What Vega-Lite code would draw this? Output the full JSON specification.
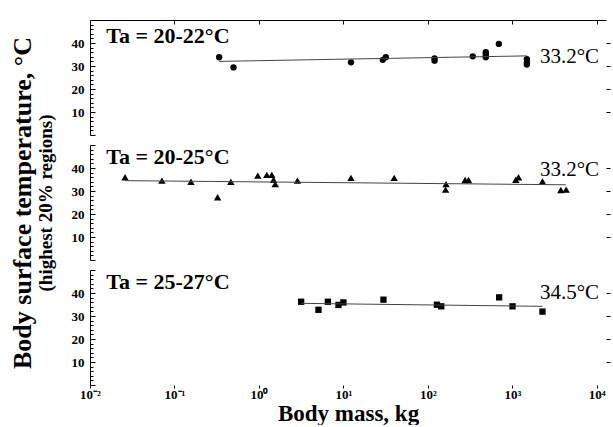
{
  "$schema": "https://vega.github.io/schema/vega-lite/v6.json",
  "padding": {"top": 14, "left": 8, "right": 0, "bottom": 0},
  "background": "white",
  "config": {
    "view": {"stroke": null},
    "axis": {"grid": false, "domainColor": "black", "tickColor": "black", "labelColor": "black", "titleColor": "black", "labelFont": "Liberation Serif", "titleFont": "Liberation Serif", "labelFlush": false, "labelOverlap": false}
  },
  "datasets": {
    "points": [
      {"panel": "A", "mass": 0.338, "temp": 33.8},
      {"panel": "A", "mass": 0.5, "temp": 29.4},
      {"panel": "A", "mass": 12.3, "temp": 31.6},
      {"panel": "A", "mass": 29.3, "temp": 32.7},
      {"panel": "A", "mass": 31.8, "temp": 33.8},
      {"panel": "A", "mass": 120, "temp": 33.3},
      {"panel": "A", "mass": 120, "temp": 32.3},
      {"panel": "A", "mass": 340, "temp": 34.2},
      {"panel": "A", "mass": 485, "temp": 36.0},
      {"panel": "A", "mass": 485, "temp": 34.9},
      {"panel": "A", "mass": 485, "temp": 33.8},
      {"panel": "A", "mass": 692, "temp": 39.6},
      {"panel": "A", "mass": 1486, "temp": 33.0},
      {"panel": "A", "mass": 1486, "temp": 31.6},
      {"panel": "A", "mass": 1486, "temp": 30.6},
      {"panel": "B", "mass": 0.026, "temp": 36.0},
      {"panel": "B", "mass": 0.071, "temp": 34.5},
      {"panel": "B", "mass": 0.157, "temp": 34.0},
      {"panel": "B", "mass": 0.324, "temp": 27.3},
      {"panel": "B", "mass": 0.465, "temp": 34.0},
      {"panel": "B", "mass": 0.97, "temp": 36.7},
      {"panel": "B", "mass": 1.24, "temp": 37.0},
      {"panel": "B", "mass": 1.42, "temp": 37.0},
      {"panel": "B", "mass": 1.49, "temp": 34.9},
      {"panel": "B", "mass": 1.56, "temp": 33.0},
      {"panel": "B", "mass": 2.86, "temp": 34.5},
      {"panel": "B", "mass": 12.3, "temp": 35.7},
      {"panel": "B", "mass": 39.9, "temp": 35.7},
      {"panel": "B", "mass": 164, "temp": 33.0},
      {"panel": "B", "mass": 162, "temp": 30.6},
      {"panel": "B", "mass": 276, "temp": 34.8},
      {"panel": "B", "mass": 303, "temp": 34.8},
      {"panel": "B", "mass": 1100, "temp": 34.9},
      {"panel": "B", "mass": 1183, "temp": 36.0},
      {"panel": "B", "mass": 2275, "temp": 34.2},
      {"panel": "B", "mass": 3750, "temp": 30.4},
      {"panel": "B", "mass": 4335, "temp": 30.6},
      {"panel": "C", "mass": 3.16, "temp": 36.2},
      {"panel": "C", "mass": 5.07, "temp": 32.7},
      {"panel": "C", "mass": 6.54, "temp": 36.2},
      {"panel": "C", "mass": 8.75, "temp": 34.8},
      {"panel": "C", "mass": 10.0, "temp": 35.9},
      {"panel": "C", "mass": 29.8, "temp": 37.1},
      {"panel": "C", "mass": 128, "temp": 34.9},
      {"panel": "C", "mass": 144, "temp": 34.2},
      {"panel": "C", "mass": 698, "temp": 38.1},
      {"panel": "C", "mass": 1005, "temp": 34.2},
      {"panel": "C", "mass": 2275, "temp": 31.9}
    ],
    "fits": [
      {"panel": "A", "mass": 0.338, "temp": 32.0},
      {"panel": "A", "mass": 1486, "temp": 34.4},
      {"panel": "B", "mass": 0.026, "temp": 34.5},
      {"panel": "B", "mass": 4300, "temp": 32.7},
      {"panel": "C", "mass": 3.16, "temp": 35.5},
      {"panel": "C", "mass": 2275, "temp": 34.2}
    ],
    "labels": [
      {"panel": "A", "kind": "ta", "mass": 0.0156, "temp": 43.0, "text": "Ta = 20-22°C"},
      {"panel": "B", "kind": "ta", "mass": 0.0156, "temp": 44.8, "text": "Ta = 20-25°C"},
      {"panel": "C", "kind": "ta", "mass": 0.0156, "temp": 45.0, "text": "Ta = 25-27°C"},
      {"panel": "A", "kind": "val", "mass": 2120, "temp": 33.8, "text": "33.2°C"},
      {"panel": "B", "kind": "val", "mass": 2120, "temp": 39.2, "text": "33.2°C"},
      {"panel": "C", "kind": "val", "mass": 2120, "temp": 40.0, "text": "34.5°C"}
    ]
  },
  "vconcat": [
    {
      "width": 516, "height": 115,
      "resolve": {"scale": {"y": "shared"}, "axis": {"y": "independent"}},
      "layer": [
        {
          "data": {"name": "points"},
          "transform": [{"filter": "datum.panel === 'A'"}],
          "mark": {"type": "point", "shape": "circle", "filled": true, "color": "black", "size": 40, "opacity": 1},
          "encoding": {
            "x": {"field": "mass", "type": "quantitative", "scale": {"type": "log", "domain": [0.01, 12850], "nice": false},
                  "axis": {"orient": "top", "values": [0.01, 0.1, 1, 10, 100, 1000, 10000], "labels": false, "tickSize": -4, "domain": true, "title": null}},
            "y": {"field": "temp", "type": "quantitative", "scale": {"domain": [0, 50], "nice": false, "zero": false},
                  "axis": {"orient": "left", "values": [0,2,4,6,8,10,12,14,16,18,20,22,24,26,28,30,32,34,36,38,40,42,44,46,48,50],
                           "labelExpr": "datum.value % 10 === 0 && datum.value > 0 && datum.value < 50 ? datum.value : ''",
                           "tickSize": {"condition": {"test": "datum.value % 10 === 0", "value": -5}, "value": -3},
                           "labelPadding": 11, "labelFontSize": 13, "labelFontWeight": "bold", "title": null}}
          }
        },
        {
          "data": {"name": "fits"},
          "transform": [{"filter": "datum.panel === 'A'"}],
          "mark": {"type": "line", "color": "#444444", "strokeWidth": 1},
          "encoding": {
            "x": {"field": "mass", "type": "quantitative"},
            "y": {"field": "temp", "type": "quantitative",
                  "axis": {"orient": "right", "values": [10, 20, 30, 40], "labels": false, "domain": false, "tickSize": 4, "title": null}}
          }
        },
        {
          "data": {"name": "labels"},
          "transform": [{"filter": "datum.panel === 'A' && datum.kind === 'ta'"}],
          "mark": {"type": "text", "align": "left", "baseline": "middle", "font": "Liberation Serif", "fontSize": 22, "fontWeight": "bold", "color": "black"},
          "encoding": {
            "x": {"field": "mass", "type": "quantitative"},
            "y": {"field": "temp", "type": "quantitative", "axis": null},
            "text": {"field": "text"}
          }
        },
        {
          "data": {"name": "labels"},
          "transform": [{"filter": "datum.panel === 'A' && datum.kind === 'val'"}],
          "mark": {"type": "text", "align": "left", "baseline": "middle", "font": "Liberation Serif", "fontSize": 21, "fontWeight": "normal", "color": "black"},
          "encoding": {
            "x": {"field": "mass", "type": "quantitative"},
            "y": {"field": "temp", "type": "quantitative", "axis": null},
            "text": {"field": "text"}
          }
        }
      ]
    },
    {
      "width": 516, "height": 115,
      "resolve": {"scale": {"y": "shared"}, "axis": {"y": "independent"}},
      "layer": [
        {
          "data": {"name": "points"},
          "transform": [{"filter": "datum.panel === 'B'"}],
          "mark": {"type": "point", "shape": "triangle-up", "filled": true, "color": "black", "size": 55, "opacity": 1},
          "encoding": {
            "x": {"field": "mass", "type": "quantitative", "scale": {"type": "log", "domain": [0.01, 12850], "nice": false}, "axis": null},
            "y": {"field": "temp", "type": "quantitative", "scale": {"domain": [0, 50], "nice": false, "zero": false},
                  "axis": {"orient": "left", "values": [0,2,4,6,8,10,12,14,16,18,20,22,24,26,28,30,32,34,36,38,40,42,44,46,48,50],
                           "labelExpr": "datum.value % 10 === 0 && datum.value > 0 && datum.value < 50 ? datum.value : ''",
                           "tickSize": {"condition": {"test": "datum.value % 10 === 0", "value": -5}, "value": -3},
                           "labelPadding": 11, "labelFontSize": 13, "labelFontWeight": "bold",
                           "title": "(highest 20% regions)", "titleFontSize": 19, "titleFontWeight": "bold", "titlePadding": 16}}
          }
        },
        {
          "data": {"name": "fits"},
          "transform": [{"filter": "datum.panel === 'B'"}],
          "mark": {"type": "line", "color": "#444444", "strokeWidth": 1},
          "encoding": {
            "x": {"field": "mass", "type": "quantitative"},
            "y": {"field": "temp", "type": "quantitative",
                  "axis": {"orient": "right", "values": [10, 20, 30, 40], "labels": false, "domain": false, "tickSize": 4, "title": null}}
          }
        },
        {
          "data": {"name": "labels"},
          "transform": [{"filter": "datum.panel === 'B' && datum.kind === 'ta'"}],
          "mark": {"type": "text", "align": "left", "baseline": "middle", "font": "Liberation Serif", "fontSize": 22, "fontWeight": "bold", "color": "black"},
          "encoding": {
            "x": {"field": "mass", "type": "quantitative"},
            "y": {"field": "temp", "type": "quantitative",
                  "axis": {"orient": "left", "ticks": false, "labels": false, "domain": false,
                           "title": "Body surface temperature, °C", "titleFontSize": 26, "titleFontWeight": "bold", "titlePadding": 55}},
            "text": {"field": "text"}
          }
        },
        {
          "data": {"name": "labels"},
          "transform": [{"filter": "datum.panel === 'B' && datum.kind === 'val'"}],
          "mark": {"type": "text", "align": "left", "baseline": "middle", "font": "Liberation Serif", "fontSize": 21, "fontWeight": "normal", "color": "black"},
          "encoding": {
            "x": {"field": "mass", "type": "quantitative"},
            "y": {"field": "temp", "type": "quantitative", "axis": null},
            "text": {"field": "text"}
          }
        }
      ]
    },
    {
      "width": 516, "height": 115,
      "resolve": {"scale": {"y": "shared"}, "axis": {"y": "independent"}},
      "layer": [
        {
          "data": {"name": "points"},
          "transform": [{"filter": "datum.panel === 'C'"}],
          "mark": {"type": "point", "shape": "square", "filled": true, "color": "black", "size": 40, "opacity": 1},
          "encoding": {
            "x": {"field": "mass", "type": "quantitative", "scale": {"type": "log", "domain": [0.01, 12850], "nice": false},
                  "axis": {"orient": "bottom", "values": [0.01, 0.1, 1, 10, 100, 1000, 10000], "domain": false, "tickSize": 3,
                           "labelExpr": "['10⁻²','10⁻¹','10⁰','10¹','10²','10³','10⁴'][round(log(datum.value)/LN10)+2]",
                           "labelFontSize": 13, "labelFontWeight": "bold", "labelPadding": 0,
                           "title": "Body mass, kg", "titleFontSize": 23, "titleFontWeight": "bold", "titlePadding": 1}},
            "y": {"field": "temp", "type": "quantitative", "scale": {"domain": [0, 50], "nice": false, "zero": false},
                  "axis": {"orient": "left", "values": [0,2,4,6,8,10,12,14,16,18,20,22,24,26,28,30,32,34,36,38,40,42,44,46,48,50],
                           "labelExpr": "datum.value % 10 === 0 && datum.value > 0 && datum.value < 50 ? datum.value : ''",
                           "tickSize": {"condition": {"test": "datum.value % 10 === 0", "value": -5}, "value": -3},
                           "labelPadding": 11, "labelFontSize": 13, "labelFontWeight": "bold", "title": null}}
          }
        },
        {
          "data": {"name": "fits"},
          "transform": [{"filter": "datum.panel === 'C'"}],
          "mark": {"type": "line", "color": "#444444", "strokeWidth": 1},
          "encoding": {
            "x": {"field": "mass", "type": "quantitative"},
            "y": {"field": "temp", "type": "quantitative",
                  "axis": {"orient": "right", "values": [10, 20, 30, 40], "labels": false, "domain": false, "tickSize": 4, "title": null}}
          }
        },
        {
          "data": {"name": "labels"},
          "transform": [{"filter": "datum.panel === 'C' && datum.kind === 'ta'"}],
          "mark": {"type": "text", "align": "left", "baseline": "middle", "font": "Liberation Serif", "fontSize": 22, "fontWeight": "bold", "color": "black"},
          "encoding": {
            "x": {"field": "mass", "type": "quantitative"},
            "y": {"field": "temp", "type": "quantitative", "axis": null},
            "text": {"field": "text"}
          }
        },
        {
          "data": {"name": "labels"},
          "transform": [{"filter": "datum.panel === 'C' && datum.kind === 'val'"}],
          "mark": {"type": "text", "align": "left", "baseline": "middle", "font": "Liberation Serif", "fontSize": 21, "fontWeight": "normal", "color": "black"},
          "encoding": {
            "x": {"field": "mass", "type": "quantitative"},
            "y": {"field": "temp", "type": "quantitative", "axis": null},
            "text": {"field": "text"}
          }
        }
      ]
    }
  ],
  "spacing": 10,
  "bounds": "flush"
}
